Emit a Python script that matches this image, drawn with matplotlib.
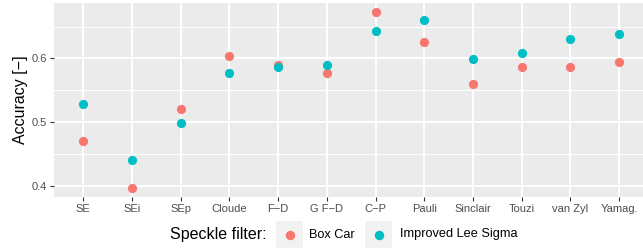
import matplotlib
matplotlib.use("Agg")
import matplotlib.pyplot as plt
from matplotlib.patches import Rectangle
from matplotlib.lines import Line2D
import numpy

plt.rcParams['font.family'] = ['Liberation Sans', 'DejaVu Sans']

categories = ['SE', 'SEi', 'SEp', 'Cloude', 'F\u2212D', 'G F\u2212D', 'C\u2212P',
              'Pauli', 'Sinclair', 'Touzi', 'van Zyl', 'Yamag.']
box_car = [0.471, 0.397, 0.520, 0.604, 0.590, 0.577, 0.673,
           0.626, 0.560, 0.586, 0.586, 0.595]
lee_sigma = [0.529, 0.441, 0.498, 0.577, 0.586, 0.590, 0.643,
             0.660, 0.599, 0.608, 0.630, 0.639]
series_names = ['Box Car', 'Improved Lee Sigma']
red = '#F8766D'
cyan = '#00BFC4'
text_grey = '#4D4D4D'

fig = plt.figure(figsize=(6.43, 2.5), dpi=100)
ax = fig.add_axes([54 / 643, 53.3 / 250, 589 / 643, 193.7 / 250])
ax.set_facecolor('#EBEBEB')

locs = numpy.arange(len(categories))
ax.scatter(locs, box_car, s=44, color=red, zorder=3, linewidths=0)
ax.scatter(locs, lee_sigma, s=44, color=cyan, zorder=3, linewidths=0)

ax.set_xlim(-0.6, 11.49)
ax.set_ylim(0.383, 0.687)
ax.set_xticks(locs)
ax.set_xticklabels(categories)
ax.set_yticks([0.4, 0.5, 0.6])
ax.set_yticklabels(['0.4', '0.5', '0.6'])
ax.set_yticks([0.45, 0.55, 0.65], minor=True)

ax.grid(True, which='major', color='white', linewidth=1.4, zorder=0)
ax.grid(True, which='minor', axis='y', color='white', linewidth=0.7, zorder=0)
ax.set_axisbelow(True)
for spine in ax.spines.values():
    spine.set_visible(False)
ax.tick_params(which='major', length=3, width=0.8, color='#333333',
               labelsize=8, labelcolor=text_grey, pad=2)
ax.tick_params(which='minor', length=0)

ax.set_ylabel('Accuracy [\u2212]', fontsize=11.5, color='black', labelpad=3)

# legend along the bottom, ggplot style
fig.text(170 / 643, 1 - 234.5 / 250, 'Speckle filter:', fontsize=11.5,
         ha='left', va='center')
key_lefts = [276, 365]
label_lefts = [309, 400]
for name, colour, kx, lx in zip(series_names, [red, cyan], key_lefts, label_lefts):
    fig.add_artist(Rectangle((kx / 643, 1 - 248 / 250), 27 / 643, 27 / 250,
                             transform=fig.transFigure, facecolor='#F2F2F2',
                             edgecolor='none'))
    fig.add_artist(Line2D([(kx + 13.5) / 643], [1 - 234.5 / 250], marker='o',
                          markersize=6.8, color=colour, markeredgewidth=0,
                          transform=fig.transFigure))
    fig.text(lx / 643, 1 - 234.5 / 250, name, fontsize=9.2, ha='left', va='center')

plt.savefig('out.png', dpi=100)
